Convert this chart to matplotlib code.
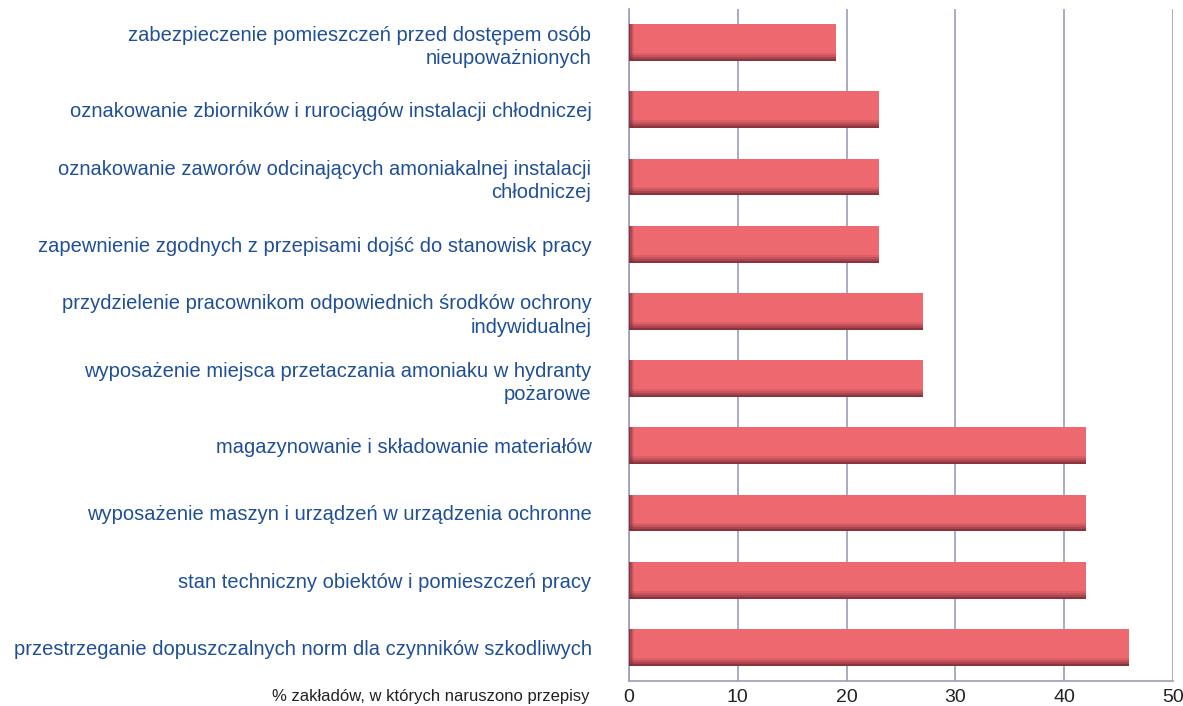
import matplotlib.pyplot as plt
import numpy as np

# categories listed top to bottom
categories = [
    'zabezpieczenie pomieszczeń przed dostępem osób\nnieupoważnionych',
    'oznakowanie zbiorników i rurociągów instalacji chłodniczej',
    'oznakowanie zaworów odcinających amoniakalnej instalacji\nchłodniczej',
    'zapewnienie zgodnych z przepisami dojść do stanowisk pracy',
    'przydzielenie pracownikom odpowiednich środków ochrony\nindywidualnej',
    'wyposażenie miejsca przetaczania amoniaku w hydranty\npożarowe',
    'magazynowanie i składowanie materiałów',
    'wyposażenie maszyn i urządzeń w urządzenia ochronne',
    'stan techniczny obiektów i pomieszczeń pracy',
    'przestrzeganie dopuszczalnych norm dla czynników szkodliwych',
]
values = [19, 23, 23, 23, 27, 27, 42, 42, 42, 46]
xticks = [0, 10, 20, 30, 40, 50]
xlabel = '% zakładów, w których naruszono przepisy'

plt.rcParams['font.family'] = ['Liberation Sans', 'DejaVu Sans']

fig = plt.figure(figsize=(11.83, 7.06), dpi=100)
ax = fig.add_axes([629 / 1183, 25 / 706, 544 / 1183, 672 / 706])

y = np.arange(len(categories))[::-1]
h = 0.55
bar_col = '#ee6870'
dark = '#7e2f37'

ax.barh(y, values, height=h, color=bar_col, zorder=3)
# soft shadow along the bottom edge
for k, a in enumerate([0.9, 0.6, 0.35, 0.15]):
    ax.barh(y - h / 2 + 0.015 + 0.03 * k, values, height=0.03,
            color=dark, alpha=a, linewidth=0, zorder=4)
# dark left edge
for k, a in enumerate([0.9, 0.55, 0.3, 0.12]):
    ax.barh(y, [0.12] * len(values), left=0.12 * k, height=h,
            color=dark, alpha=a, linewidth=0, zorder=5)

grid_col = '#9c9cba'
ax.set_xlim(0, 50)
ax.set_ylim(-0.5, len(categories) - 0.5)
ax.set_xticks(xticks)
ax.set_xticklabels([str(t) for t in xticks], fontsize=14, color='#222222')
ax.xaxis.grid(True, color=grid_col, linewidth=1.2, zorder=0)
ax.set_axisbelow(True)
ax.tick_params(axis='x', length=0, pad=6)

ax.set_yticks(y)
ax.set_yticklabels(categories, fontsize=14.5, color='#1f4f96',
                   multialignment='right', linespacing=1.3)
ax.tick_params(axis='y', length=0, pad=27)

for s in ['top', 'right']:
    ax.spines[s].set_visible(False)
for s in ['left', 'bottom']:
    ax.spines[s].set_color(grid_col)
    ax.spines[s].set_linewidth(1.2)

fig.text(590 / 1183, 1 - 697 / 706, xlabel, ha='right', va='center',
         fontsize=12, color='#222222')

fig.savefig('out.png', dpi=100)
